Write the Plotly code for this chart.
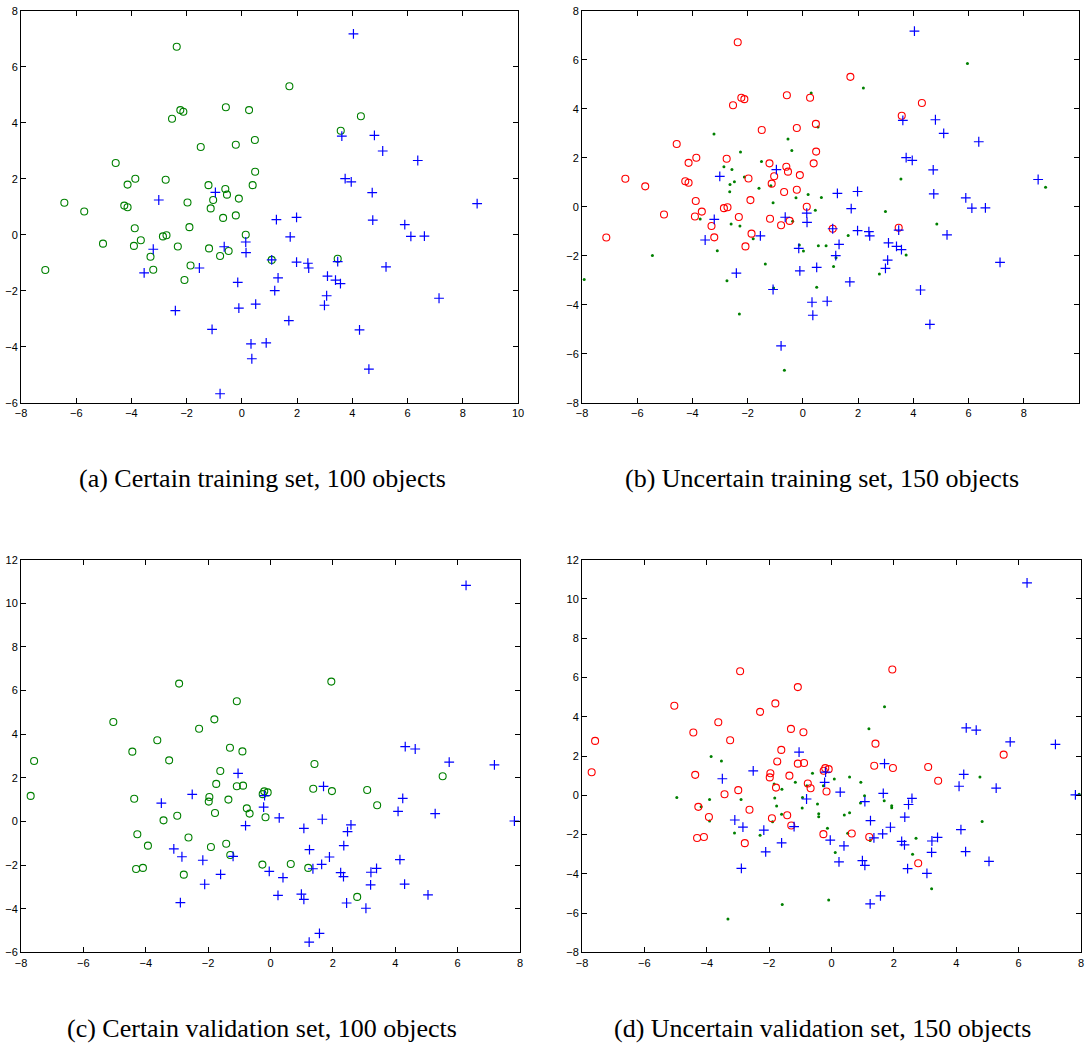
import plotly.graph_objects as go

# ---------------- Training set (panels a, b) ----------------
train_plus_x = [-0.96, -3.01, -3.21, -3.54, -1.54, -0.64, 0.14, 0.15, -0.15, -0.11, 0.50, -2.41, -1.08, 0.33, 0.88, 0.36, -0.79,
                4.04, 3.62, 4.80, 5.10, 6.37, 3.74, 3.96, 4.72, 8.52, 1.25, 1.98, 4.74, 5.90, 6.12, 6.61, 1.75, 1.08, 1.98,
                2.39, 2.42, 3.47, 5.22, 1.31, 1.19, 3.10, 3.39, 3.57, 3.07, 2.99, 7.14, 1.70, 4.26, 4.60]
train_plus_y = [1.51, 1.24, -0.52, -1.36, -1.19, -0.43, -0.26, -0.64, -1.70, -2.62, -2.48, -2.71, -3.38, -3.90, -3.86, -4.43, -5.68,
                7.17, 3.52, 3.55, 2.99, 2.65, 2.00, 1.89, 1.50, 1.11, 0.54, 0.62, 0.52, 0.36, -0.06, -0.05, -0.08, -0.90, -0.98,
                -1.02, -1.19, -0.96, -1.15, -1.54, -2.00, -1.48, -1.62, -1.75, -2.18, -2.52, -2.27, -3.07, -3.40, -4.80]

train_circ_x = [-2.36, -2.53, -2.23, -2.12, -0.58, 0.26, -1.49, -0.22, 0.47, -4.57, -3.86, -4.14, -2.76, 0.48, -1.21, -0.60,
                -0.54, 0.39, -6.43, -5.71, -4.26, -4.14, -1.97, -1.04, -1.13, -0.11, -0.68, -0.22, -3.88, -1.90, 0.14, -5.03,
                -3.91, -3.66, -2.86, -2.73, -2.32, -1.19, -0.79, -0.48, -3.31, -7.12, -3.21, -1.86, -2.08, 1.08, 1.72, 4.31,
                3.58, 3.47]
train_circ_y = [6.71, 4.14, 4.45, 4.39, 4.55, 4.45, 3.13, 3.21, 3.38, 2.56, 2.00, 1.79, 1.96, 2.25, 1.77, 1.63,
                1.43, 1.77, 1.14, 0.83, 1.04, 0.98, 1.15, 1.24, 0.94, 1.29, 0.60, 0.69, 0.23, 0.27, 0.00, -0.32,
                -0.40, -0.20, -0.06, -0.02, -0.42, -0.49, -0.76, -0.58, -0.79, -1.26, -1.25, -1.10, -1.62, -0.90, 5.30, 4.23,
                3.71, -0.86]

train_unc_x = [-3.22, -2.26, -2.86, -2.57, -1.50, -0.54, -0.40, 0.30, -2.48, -2.64, -2.65, -2.12, -1.59, -1.16, -1.08, -0.25,
               0.19, 0.67, 0.45, -3.72, -2.60, -2.28, -1.80, -3.10, -5.45, -7.92, -1.36, -2.75, -2.30, -1.06, -0.37, -0.13,
               0.02, 0.56, 0.84, 1.11, 0.50, -0.67, 5.96, 2.19, 3.55, 2.99, 4.85, 1.64, 8.79, 1.20, 3.74, 2.77, 0.55]
train_unc_y = [2.97, 2.23, 1.63, 1.52, 1.84, 2.76, 2.29, 4.64, 1.02, 0.91, 0.61, 1.21, 0.75, 0.86, 0.16, 0.37,
               0.50, 0.38, -0.14, -0.50, -0.71, -0.79, -1.31, -1.80, -1.99, -2.97, -2.34, -3.02, -4.38, -3.32, -0.59, -1.56,
               -1.81, -1.59, -1.59, -2.44, -3.29, -6.68, 5.85, 4.84, 1.13, -0.20, -0.71, -1.18, 0.79, -2.08, -1.97, -2.75, 3.25]

# ---------------- Validation set (panels c, d) ----------------
val_plus_x = [-1.04, -2.51, -3.50, -0.22, -0.19, -0.80, -3.10, -2.84, -2.17, -1.20, -1.60, -2.11, -2.89, -0.04,
              6.27, 4.32, 4.64, 5.73, 7.18, 1.70, 4.24, 4.09, 5.28, 7.82, 0.28, 1.66, 1.07, 2.58, 2.47, 2.35, 1.25, 1.89,
              1.64, 1.36, 4.15, 0.40, 2.25, 2.34, 3.22, 3.40, 3.21, 4.30, 0.24, 0.99, 1.07, 5.05, 2.44, 3.06, 1.57, 1.24]
val_plus_y = [2.20, 1.24, 0.84, 0.66, 1.18, -0.19, -1.26, -1.62, -1.78, -1.60, -2.43, -2.88, -3.72, -2.29,
              10.82, 3.43, 3.32, 2.72, 2.59, 1.61, 1.06, 0.46, 0.36, 0.02, 0.16, 0.10, -0.32, -0.16, -0.47, -1.11, -1.29, -1.63,
              -1.97, -2.17, -1.75, -2.58, -2.35, -2.53, -2.33, -2.15, -2.91, -2.87, -3.39, -3.33, -3.57, -3.37, -3.74, -3.98, -5.13, -5.53]

val_circ_x = [-2.93, -1.08, -1.80, -2.29, -5.04, -3.63, -4.43, -3.25, -1.30, -0.90, -7.58, -1.61, -1.74, -1.08, -0.88,
              -7.69, -4.37, -1.96, -1.98, -1.35, -0.25, -0.20, -0.09, -0.76, -0.67, -1.78, -2.99, -3.43, -0.16, -4.27,
              -2.63, -3.93, -1.91, -1.42, -1.29, -4.31, -4.09, -2.78, -0.26, 1.95, 1.41, 5.52, 1.37, 1.97, 3.10, 3.42,
              0.65, 1.21, 2.78]
val_circ_y = [6.32, 5.51, 4.68, 4.25, 4.56, 3.72, 3.20, 2.80, 3.38, 3.21, 2.77, 2.31, 1.72, 1.61, 1.64,
              1.17, 1.04, 1.12, 0.91, 1.00, 1.25, 1.38, 1.33, 0.60, 0.36, 0.39, 0.26, 0.05, 0.19, -0.59,
              -0.74, -1.11, -1.17, -1.02, -1.54, -2.18, -2.13, -2.44, -1.98, 6.41, 2.63, 2.07, 1.50, 1.39, 1.44, 0.74,
              -1.95, -2.13, -3.46]

val_unc_x = [-3.86, -3.53, -4.96, -3.91, -3.91, -4.18, -2.90, -3.11, -2.29, -3.32, -1.58, -0.09, -1.84, -1.59, -1.82,
             -1.76, -1.60, -1.89, -1.16, -0.61, -0.93, -0.94, -0.45, -0.41, -0.41, -0.13, -0.26, 0.09, 0.12, -0.79,
             1.70, 1.20, 0.58, 0.94, 1.06, 0.93, 1.69, 1.93, 1.93, 0.41, 0.58, 0.52, 1.24, 2.71, 2.60, 3.21, 4.76, 4.83, 7.94]
val_unc_y = [1.98, 1.75, -0.11, -0.21, -1.31, -0.58, -0.21, -1.92, -2.04, -6.30, -5.57, -5.33, 0.57, 0.30, -0.14,
             -0.55, -0.97, -1.35, 0.66, 1.12, -0.11, -0.65, -0.44, -0.94, -1.09, -1.68, 0.49, 0.83, -2.91, 0.49,
             4.51, 3.39, 0.93, 0.66, -0.02, -0.39, -0.28, -0.53, -0.63, -1.00, -0.89, -1.94, -2.31, -2.19, -3.01, -4.76, 0.93, -1.34, 0.05]

captions = ["(a) Certain training set, 100 objects",
            "(b) Uncertain training set, 150 objects",
            "(c) Certain validation set, 100 objects",
            "(d) Uncertain validation set, 150 objects"]

BLUE = "#0000ff"
GREEN = "#008000"
RED = "#ff0000"

W, H = 1085, 1046

fig = go.Figure()


def plus_trace(x, y, ax):
    return go.Scatter(x=x, y=y, mode="markers", xaxis="x" + ax, yaxis="y" + ax, showlegend=False,
                      marker=dict(symbol="cross-thin-open", size=7, color=BLUE, line=dict(color=BLUE, width=1.2)),
                      hoverinfo="x+y")


def circ_trace(x, y, ax, color):
    return go.Scatter(x=x, y=y, mode="markers", xaxis="x" + ax, yaxis="y" + ax, showlegend=False,
                      marker=dict(symbol="circle-open", size=7, color=color, line=dict(color=color, width=1.1)),
                      hoverinfo="x+y")


def dot_trace(x, y, ax):
    return go.Scatter(x=x, y=y, mode="markers", xaxis="x" + ax, yaxis="y" + ax, showlegend=False,
                      marker=dict(symbol="circle", size=3, color=GREEN, line=dict(width=0)),
                      hoverinfo="x+y")


# panel a
fig.add_trace(circ_trace(train_circ_x, train_circ_y, "", GREEN))
fig.add_trace(plus_trace(train_plus_x, train_plus_y, ""))
# panel b
fig.add_trace(dot_trace(train_unc_x, train_unc_y, "2"))
fig.add_trace(circ_trace(train_circ_x, train_circ_y, "2", RED))
fig.add_trace(plus_trace(train_plus_x, train_plus_y, "2"))
# panel c
fig.add_trace(circ_trace(val_circ_x, val_circ_y, "3", GREEN))
fig.add_trace(plus_trace(val_plus_x, val_plus_y, "3"))
# panel d
fig.add_trace(dot_trace(val_unc_x, val_unc_y, "4"))
fig.add_trace(circ_trace(val_circ_x, val_circ_y, "4", RED))
fig.add_trace(plus_trace(val_plus_x, val_plus_y, "4"))

tickfont = dict(family="Liberation Sans, Arial, sans-serif", size=11, color="black")


def xax(domain, rng, anchor):
    return dict(domain=domain, range=rng, dtick=2, tick0=0, ticks="inside", ticklen=5, tickwidth=1,
                tickcolor="black", showline=True, linecolor="black", linewidth=1, mirror="ticks",
                showgrid=False, zeroline=False, tickfont=tickfont, anchor=anchor, fixedrange=True,
                automargin=False)


def yax(domain, rng, anchor):
    return dict(domain=domain, range=rng, dtick=2, tick0=0, ticks="inside", ticklen=5, tickwidth=1,
                tickcolor="black", showline=True, linecolor="black", linewidth=1, mirror="ticks",
                showgrid=False, zeroline=False, tickfont=tickfont, anchor=anchor, fixedrange=True,
                automargin=False)


xa = [21 / W, 518 / W]
xb = [582 / W, 1079 / W]
xc = [21 / W, 520 / W]
xd = [582 / W, 1081 / W]
y_top = [1 - 402.7 / H, 1 - 10.7 / H]
y_bot = [1 - 952.3 / H, 1 - 559.7 / H]

annotations = []
cap_pos = [(262 / W, 1 - 479 / H), (822 / W, 1 - 479 / H), (262 / W, 1 - 1028 / H), (822 / W, 1 - 1028 / H)]
for txt, (cx, cy) in zip(captions, cap_pos):
    annotations.append(dict(text=txt, x=cx, y=cy, xref="paper", yref="paper", showarrow=False,
                            xanchor="center", yanchor="middle",
                            font=dict(family="Liberation Serif, Times New Roman, serif", size=26, color="black")))

fig.update_layout(
    template="none",
    width=W, height=H,
    margin=dict(l=0, r=0, t=0, b=0),
    paper_bgcolor="white", plot_bgcolor="white",
    showlegend=False,
    xaxis=xax(xa, [-8, 10], "y"), yaxis=yax(y_top, [-6, 8], "x"),
    xaxis2=xax(xb, [-8, 10], "y2"), yaxis2=yax(y_top, [-8, 8], "x2"),
    xaxis3=xax(xc, [-8, 8], "y3"), yaxis3=yax(y_bot, [-6, 12], "x3"),
    xaxis4=xax(xd, [-8, 8], "y4"), yaxis4=yax(y_bot, [-8, 12], "x4"),
    annotations=annotations,
)

fig.write_html("out.html")
